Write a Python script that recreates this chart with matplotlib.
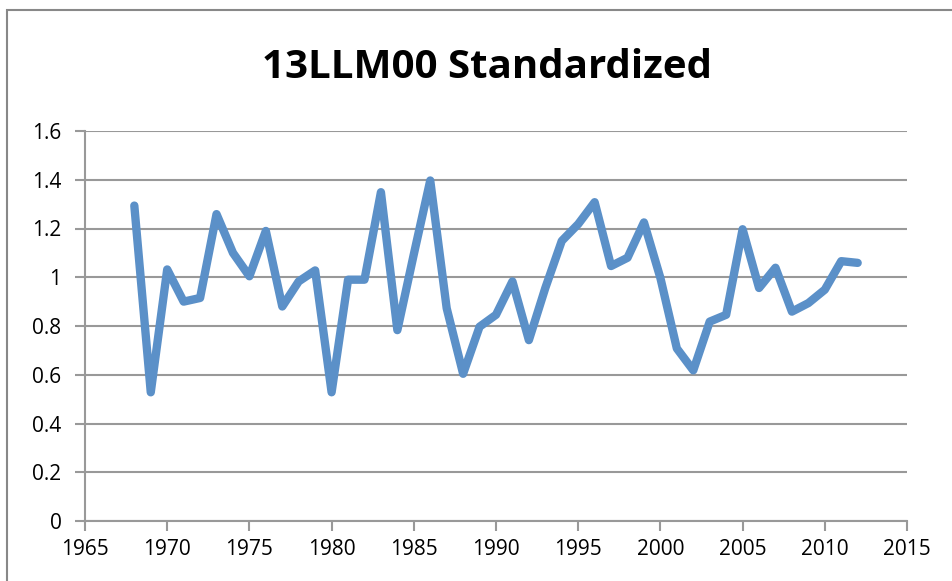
import matplotlib
matplotlib.use('Agg')
import matplotlib.pyplot as plt
from matplotlib.patches import Rectangle

# años y valores
years = list(range(1968, 2013))
values = [1.294, 0.528, 1.032, 0.900, 0.915, 1.259, 1.100, 1.004, 1.190, 0.880,
          0.983, 1.028, 0.528, 0.990, 0.990, 1.349, 0.783, 1.094, 1.397, 0.873,
          0.604, 0.797, 0.846, 0.983, 0.742, 0.956, 1.149, 1.218, 1.308, 1.046,
          1.080, 1.225, 0.997, 0.708, 0.618, 0.818, 0.846, 1.197, 0.956, 1.039,
          0.859, 0.894, 0.949, 1.066, 1.059]

x_ticks = [1965, 1970, 1975, 1980, 1985, 1990, 1995, 2000, 2005, 2010, 2015]
y_ticks = [0, 0.2, 0.4, 0.6, 0.8, 1.0, 1.2, 1.4, 1.6]
y_labels = ['0', '0.2', '0.4', '0.6', '0.8', '1', '1.2', '1.4', '1.6']

plt.rcParams['font.family'] = ['Open Sans', 'DejaVu Sans']

fig = plt.figure(figsize=(9.52, 5.81), dpi=100)
ax = fig.add_axes([85 / 952, 60 / 581, 822 / 952, 390 / 581])

gris = '#999999'
ax.plot(years, values, color='#5B90C8', lw=6, solid_capstyle='round',
        solid_joinstyle='round', zorder=3)

ax.set_xlim(1965, 2015)
ax.set_ylim(0, 1.6)
ax.set_xticks(x_ticks)
ax.set_yticks(y_ticks)
ax.set_yticklabels(y_labels)
ax.grid(axis='y', color=gris, lw=1.5)
ax.set_axisbelow(True)

for s in ['top', 'right']:
    ax.spines[s].set_visible(False)
for s in ['left', 'bottom']:
    ax.spines[s].set_color(gris)
    ax.spines[s].set_linewidth(1.5)

ax.tick_params(axis='both', colors=gris, labelcolor='black', labelsize=15,
               width=1.5, length=7, direction='out')
ax.tick_params(axis='y', pad=10)
ax.tick_params(axis='x', pad=6)

fig.text(487 / 952, 1 - 68 / 581, '13LLM00 Standardized', ha='center',
         va='center', fontsize=29, fontweight='bold')

# marco del gráfico
fig.patches.append(Rectangle((7 / 952, -0.1), 1.2, (581 - 10) / 581 + 0.1,
                             transform=fig.transFigure, fill=False,
                             edgecolor='#888888', lw=1.5))

fig.savefig('out.png', dpi=100)
